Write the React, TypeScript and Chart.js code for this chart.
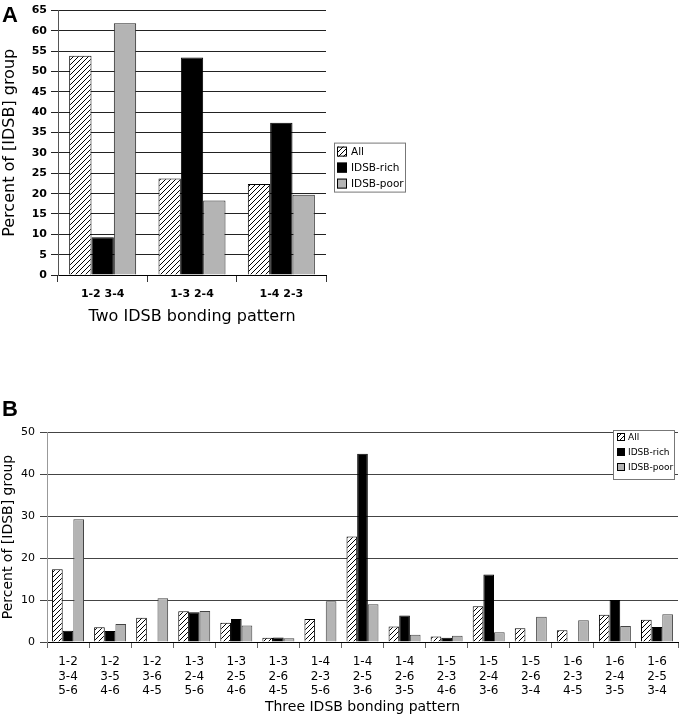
import React, { useEffect, useRef } from 'react';
import { Chart, registerables } from 'chart.js';

Chart.register(...registerables);

const SERIES_NAMES = ['All', 'IDSB-rich', 'IDSB-poor'];

// Panel A: two IDSB bonding pattern
const twoLabels = ['1-2 3-4', '1-3 2-4', '1-4 2-3'];
const twoAll = [53.9, 23.7, 22.4];
const twoRich = [9.3, 53.5, 37.4];
const twoPoor = [61.9, 18.3, 19.7];
const twoMax = 65;
const twoStep = 5;

// Panel B: three IDSB bonding pattern
const threeLabels = [
  ['1-2', '3-4', '5-6'],
  ['1-2', '3-5', '4-6'],
  ['1-2', '3-6', '4-5'],
  ['1-3', '2-4', '5-6'],
  ['1-3', '2-5', '4-6'],
  ['1-3', '2-6', '4-5'],
  ['1-4', '2-3', '5-6'],
  ['1-4', '2-5', '3-6'],
  ['1-4', '2-6', '3-5'],
  ['1-5', '2-3', '4-6'],
  ['1-5', '2-4', '3-6'],
  ['1-5', '2-6', '3-4'],
  ['1-6', '2-3', '4-5'],
  ['1-6', '2-4', '3-5'],
  ['1-6', '2-5', '3-4'],
];
const threeAll = [17.3, 3.5, 5.8, 7.3, 4.6, 1.0, 5.5, 25.1, 3.7, 1.3, 8.5, 3.3, 2.8, 6.5, 5.3];
const threeRich = [2.7, 2.6, 0, 7.1, 5.5, 1.1, 0, 44.8, 6.3, 1.0, 16.1, 0, 0, 10.0, 3.6];
const threePoor = [29.2, 4.3, 10.4, 7.4, 3.9, 0.9, 9.7, 9.0, 1.7, 1.5, 2.3, 6.0, 5.2, 3.8, 6.6];
const threeMax = 50;
const threeStep = 10;

const FONT = 'DejaVu Sans';
const GRAY = '#b4b4b4';

function makeHatch(size: number, lw: number): CanvasPattern | string {
  const c = document.createElement('canvas');
  c.width = size;
  c.height = size;
  const g = c.getContext('2d');
  if (!g) return '#fff';
  g.fillStyle = '#fff';
  g.fillRect(0, 0, size, size);
  g.strokeStyle = '#000';
  g.lineWidth = lw;
  g.beginPath();
  g.moveTo(-1, size + 1);
  g.lineTo(size + 1, -1);
  g.moveTo(-1, 1);
  g.lineTo(1, -1);
  g.moveTo(size - 1, size + 1);
  g.lineTo(size + 1, size - 1);
  g.stroke();
  return g.createPattern(c, 'repeat') || '#fff';
}

const boxLegend = {
  id: 'boxLegend',
  afterDraw(chart: any, _args: any, opts: any) {
    if (!opts || !opts.enabled) return;
    const ctx = chart.ctx as CanvasRenderingContext2D;
    const ca = chart.chartArea;
    const left = opts.fromRight ? ca.right - opts.dx - opts.w : ca.right + opts.dx;
    const top = ca.top + opts.dy;
    ctx.save();
    ctx.fillStyle = '#fff';
    ctx.fillRect(left, top, opts.w, opts.h);
    ctx.strokeStyle = opts.border;
    ctx.lineWidth = 1;
    ctx.strokeRect(left + 0.5, top + 0.5, opts.w - 1, opts.h - 1);
    ctx.font = `${opts.fontSize}px "${FONT}"`;
    ctx.textBaseline = 'middle';
    ctx.textAlign = 'left';
    chart.data.datasets.forEach((ds: any, i: number) => {
      const sy = top + opts.padY + i * opts.rowH;
      const sx = left + opts.padX;
      ctx.fillStyle = ds.backgroundColor;
      ctx.fillRect(sx, sy, opts.sw, opts.sw);
      ctx.strokeStyle = '#000';
      ctx.strokeRect(sx + 0.5, sy + 0.5, opts.sw - 1, opts.sw - 1);
      ctx.fillStyle = '#000';
      ctx.fillText(ds.label, sx + opts.sw + opts.gap, sy + opts.sw / 2 + 0.5);
    });
    ctx.restore();
  },
};

function ChartA() {
  const ref = useRef<HTMLCanvasElement | null>(null);
  useEffect(() => {
    if (!ref.current) return;
    const hatch = makeHatch(5, 1);
    const chart = new Chart(ref.current, {
      type: 'bar',
      data: {
        labels: twoLabels,
        datasets: [
          { label: SERIES_NAMES[0], data: twoAll, backgroundColor: hatch as any, borderColor: '#000', borderWidth: 1 },
          { label: SERIES_NAMES[1], data: twoRich, backgroundColor: '#000', borderColor: '#000', borderWidth: 1 },
          { label: SERIES_NAMES[2], data: twoPoor, backgroundColor: GRAY, borderColor: '#222', borderWidth: 1 },
        ],
      },
      options: {
        animation: false,
        responsive: false,
        maintainAspectRatio: false,
        layout: { padding: { top: 6, right: 94, left: 0, bottom: 0 } },
        datasets: { bar: { categoryPercentage: 0.75, barPercentage: 1 } },
        plugins: {
          legend: { display: false },
          tooltip: { enabled: false },
          boxLegend: {
            enabled: true, fromRight: false, dx: 8, dy: 132, w: 72, h: 50,
            padX: 3, padY: 4, rowH: 16, sw: 10, gap: 4, fontSize: 10.5, border: '#777',
          },
        } as any,
        scales: {
          x: {
            grid: { display: true, drawOnChartArea: false, drawTicks: true, tickLength: 7, color: '#333', offset: true },
            border: { display: true, color: '#000' },
            ticks: { font: { family: FONT, size: 11, weight: 'bold' }, color: '#000', padding: 6 },
            title: {
              display: true, text: 'Two IDSB bonding pattern', color: '#000',
              font: { family: FONT, size: 16 }, padding: { top: 4, bottom: 4 },
            },
            afterFit: (s: any) => { s.height = 55; },
          },
          y: {
            min: 0,
            max: twoMax,
            ticks: { stepSize: twoStep, font: { family: FONT, size: 11, weight: 'bold' }, color: '#000', padding: 4 },
            grid: { color: '#222', tickLength: 7 },
            border: { display: true, color: '#555' },
            title: {
              display: true, text: 'Percent of [IDSB] group', color: '#000',
              font: { family: FONT, size: 16 }, padding: 0,
            },
            afterFit: (s: any) => { s.width = 58; },
          },
        },
      },
      plugins: [boxLegend as any],
    });
    return () => chart.destroy();
  }, []);
  return <canvas ref={ref} width={420} height={330} style={{ position: 'absolute', left: 0, top: 0, width: 420, height: 330 }} />;
}

function ChartB() {
  const ref = useRef<HTMLCanvasElement | null>(null);
  useEffect(() => {
    if (!ref.current) return;
    const hatch = makeHatch(5, 1);
    const chart = new Chart(ref.current, {
      type: 'bar',
      data: {
        labels: threeLabels as any,
        datasets: [
          { label: SERIES_NAMES[0], data: threeAll, backgroundColor: hatch as any, borderColor: '#000', borderWidth: 1 },
          { label: SERIES_NAMES[1], data: threeRich, backgroundColor: '#000', borderColor: '#000', borderWidth: 1 },
          { label: SERIES_NAMES[2], data: threePoor, backgroundColor: GRAY, borderColor: '#444', borderWidth: 1 },
        ],
      },
      options: {
        animation: false,
        responsive: false,
        maintainAspectRatio: false,
        layout: { padding: { top: 52, right: 1, left: 0, bottom: 0 } },
        datasets: { bar: { categoryPercentage: 0.76, barPercentage: 1 } },
        plugins: {
          legend: { display: false },
          tooltip: { enabled: false },
          boxLegend: {
            enabled: true, fromRight: true, dx: 3, dy: -2, w: 62, h: 50,
            padX: 4, padY: 3, rowH: 15, sw: 8, gap: 3, fontSize: 9, border: '#777',
          },
        } as any,
        scales: {
          x: {
            grid: { display: true, drawOnChartArea: false, drawTicks: true, tickLength: 6, color: '#666', offset: true },
            border: { display: true, color: '#000' },
            ticks: { font: { family: FONT, size: 12, lineHeight: 1.2 }, color: '#000', padding: 7, maxRotation: 0, autoSkip: false },
            title: {
              display: true, text: 'Three IDSB bonding pattern', color: '#000',
              font: { family: FONT, size: 14 }, padding: { top: 4, bottom: 4 },
            },
            afterFit: (s: any) => { s.height = 78; },
          },
          y: {
            min: 0,
            max: threeMax,
            ticks: { stepSize: threeStep, font: { family: FONT, size: 11 }, color: '#000', padding: 5 },
            grid: { color: '#444', tickLength: 7 },
            border: { display: true, color: '#999' },
            title: {
              display: true, text: 'Percent of [IDSB] group', color: '#000',
              font: { family: FONT, size: 14 }, padding: 0,
            },
            afterFit: (s: any) => { s.width = 47; },
          },
        },
      },
      plugins: [boxLegend as any],
    });
    return () => chart.destroy();
  }, []);
  return <canvas ref={ref} width={679} height={340} style={{ position: 'absolute', left: 0, top: 380, width: 679, height: 340 }} />;
}

const letterStyle: React.CSSProperties = {
  position: 'absolute',
  left: 2,
  fontFamily: '"Liberation Sans", Arial, sans-serif',
  fontWeight: 'bold',
  fontSize: 22,
  lineHeight: '22px',
  color: '#000',
};

export default function App() {
  return (
    <div style={{ position: 'absolute', left: 0, top: 0, width: 679, height: 720, background: '#fff', overflow: 'hidden' }}>
      <ChartA />
      <ChartB />
      <div style={{ ...letterStyle, top: 4 }}>A</div>
      <div style={{ ...letterStyle, top: 398 }}>B</div>
    </div>
  );
}
